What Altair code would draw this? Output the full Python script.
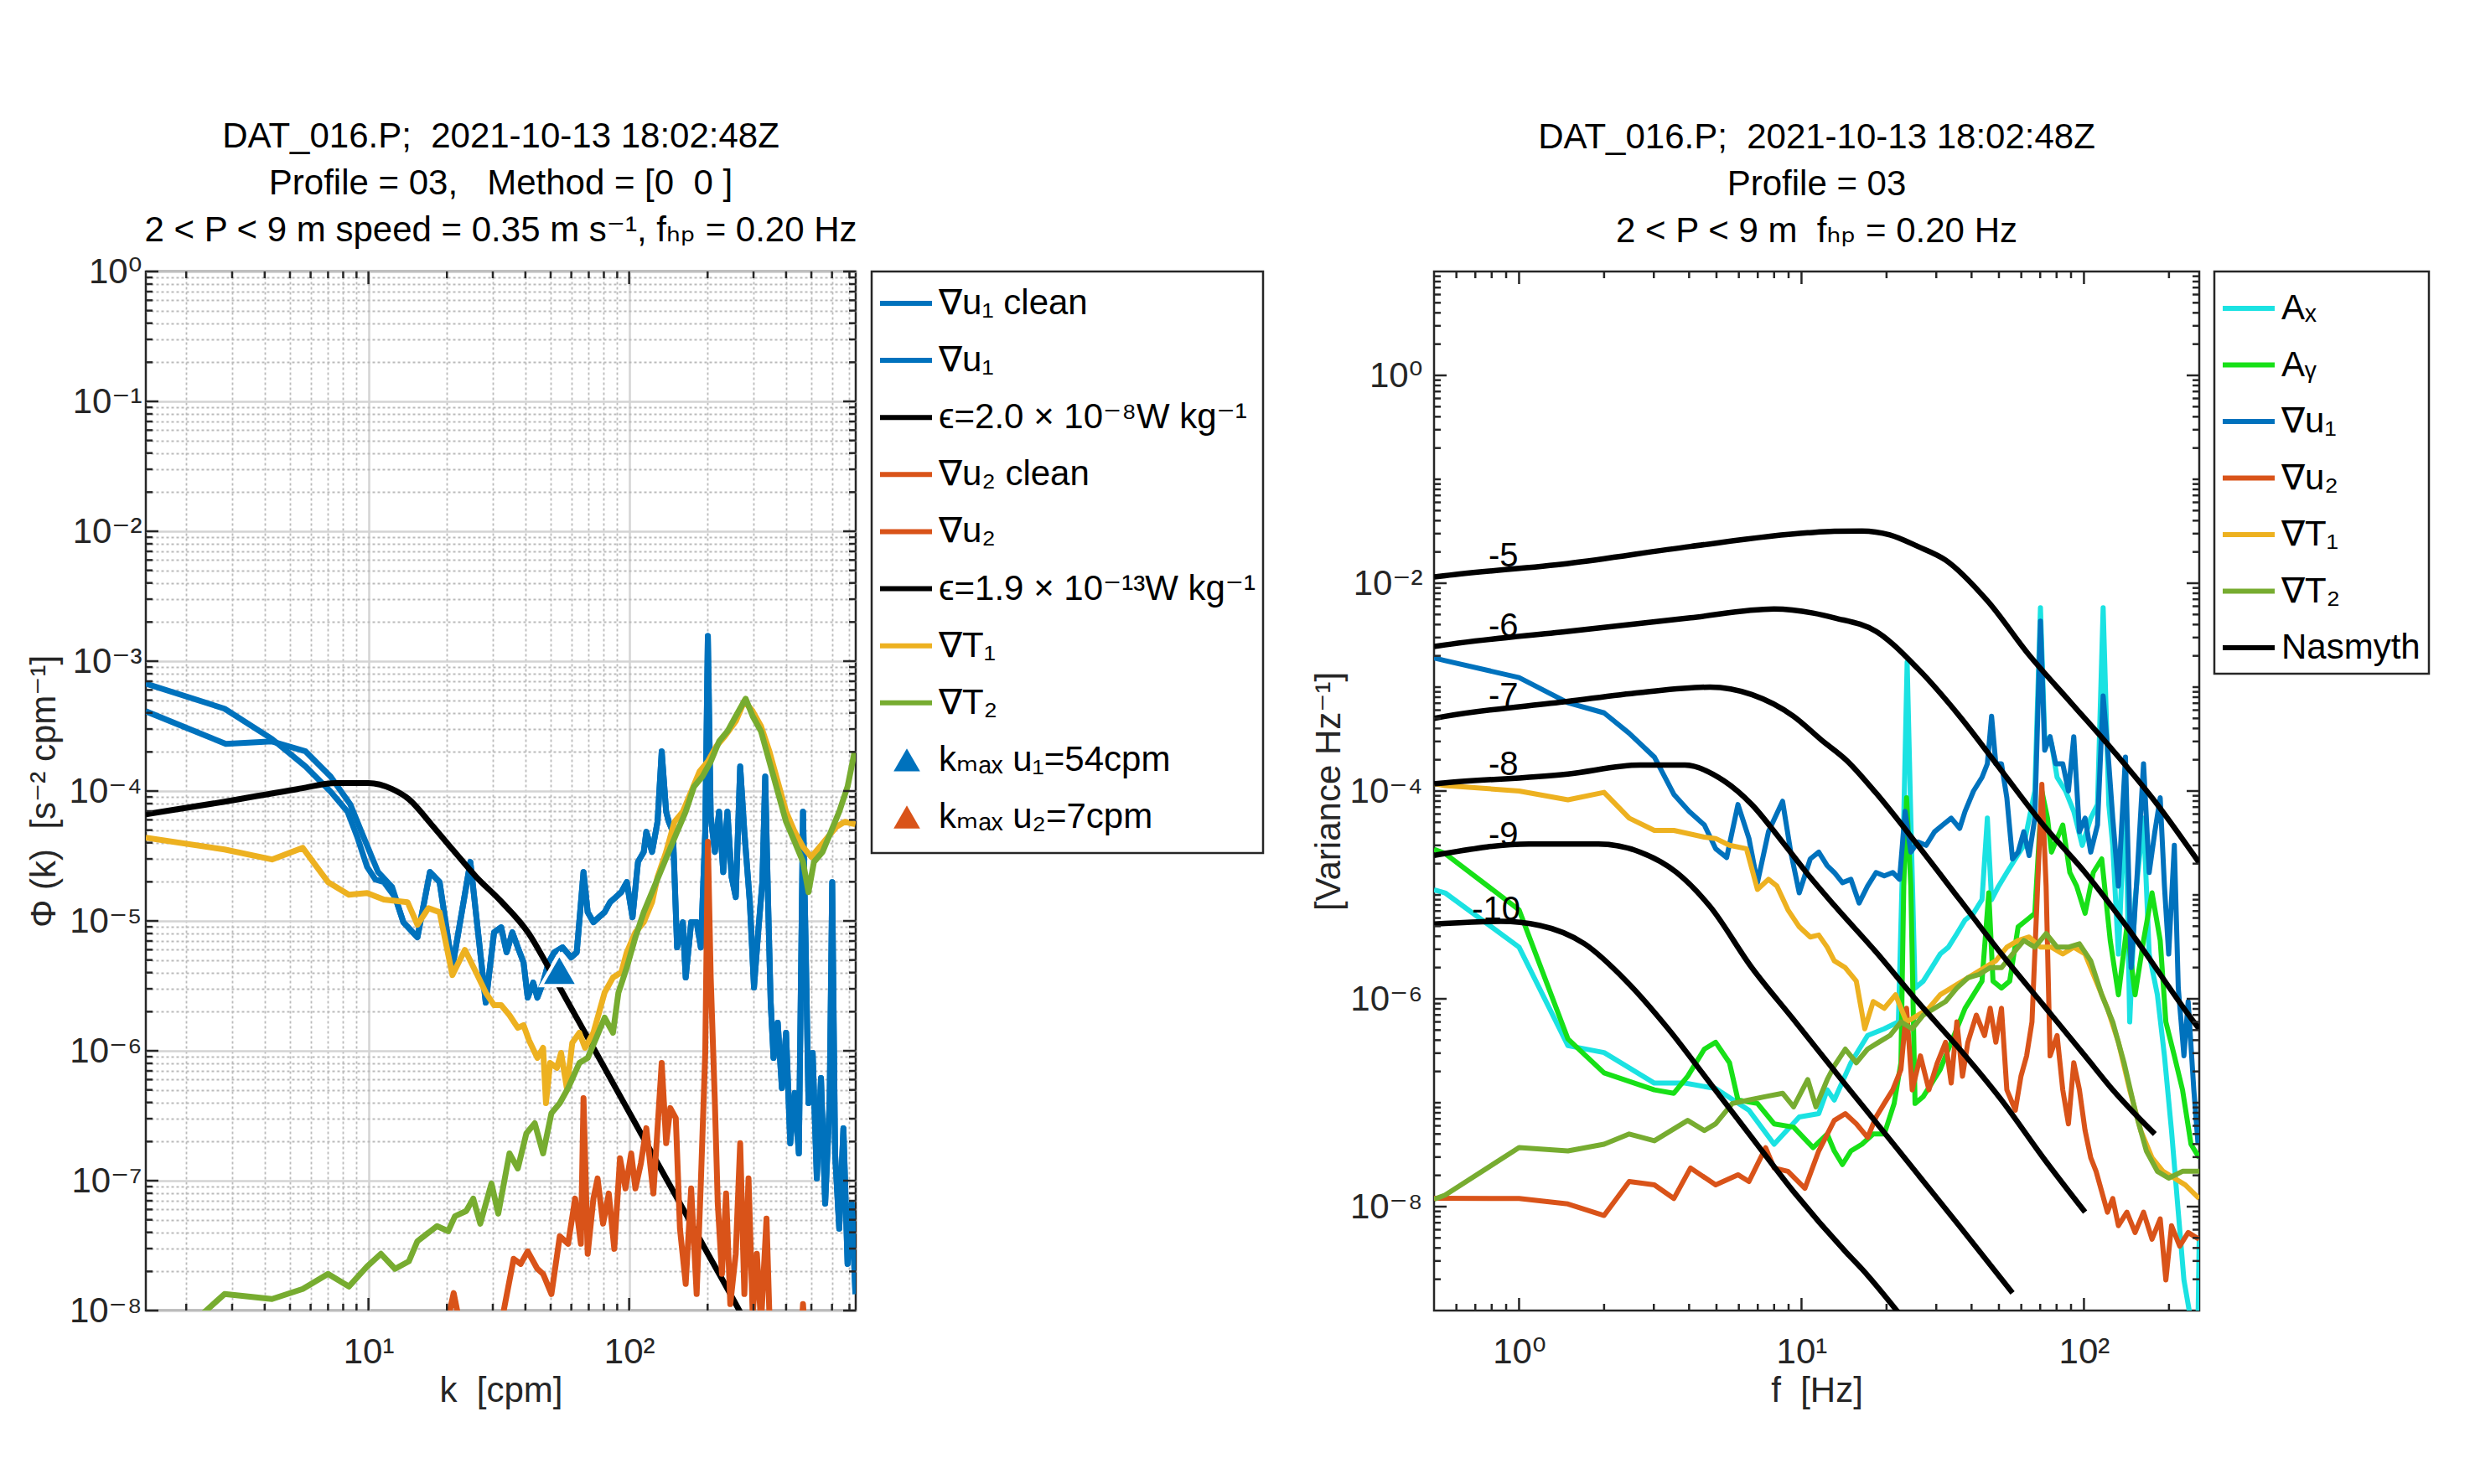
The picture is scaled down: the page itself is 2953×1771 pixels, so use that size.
import math
import altair as alt
import pandas as pd

FONT = "Liberation Sans, DejaVu Sans"
AXC = "#262626"
BLUE, RED, YEL, GRN = "#0072BD", "#D95319", "#EDB120", "#77AC30"
CYAN, LIME, BLACK = "#1BE2E2", "#17E017", "#000000"
NB = "\u00a0"

# ======================= LEFT PANEL: (log10 k [cpm], log10 Phi) =======================
U1_CLEAN_HEAD = [(0.146,-3.173),(0.448,-3.366),(0.630,-3.599),(0.759,-3.811),(0.855,-4.005),(0.920,-4.159),
                 (0.957,-4.353),(0.995,-4.585),(1.027,-4.682),(1.059,-4.701),(1.102,-4.817)]
U1_RAW_HEAD = [(0.146,-3.386),(0.453,-3.637),(0.630,-3.618),(0.759,-3.695),(0.855,-3.889),(0.930,-4.101),
               (0.973,-4.314),(1.005,-4.469),(1.037,-4.624),(1.091,-4.740)]
U1_TAIL = [(1.134,-5.010),(1.188,-5.126),(1.236,-4.624),(1.273,-4.701),(1.322,-5.359),(1.391,-4.546),(1.450,-5.629),
           (1.482,-5.088),(1.509,-5.049),(1.530,-5.242),(1.552,-5.088),(1.573,-5.204),(1.595,-5.320),(1.611,-5.591),
           (1.632,-5.475),(1.648,-5.591),(1.670,-5.475),(1.691,-5.320),(1.713,-5.242),(1.745,-5.204),(1.777,-5.281),
           (1.799,-5.242),(1.825,-4.624),(1.841,-4.933),(1.863,-5.010),(1.884,-4.972),(1.906,-4.933),(1.927,-4.856),
           (1.949,-4.817),(1.970,-4.778),(1.991,-4.701),(2.013,-4.972),(2.034,-4.546),(2.056,-4.469),(2.066,-4.314),
           (2.088,-4.469),(2.109,-4.237),(2.125,-3.695),(2.142,-4.159),(2.152,-4.237),(2.168,-4.314),(2.184,-5.204),
           (2.206,-5.010),(2.217,-5.436),(2.238,-5.010),(2.259,-5.010),(2.275,-5.204),(2.292,-4.314),(2.302,-2.806),
           (2.313,-4.198),(2.329,-4.469),(2.345,-4.159),(2.361,-4.624),(2.377,-4.159),(2.393,-4.662),(2.409,-4.817),
           (2.426,-3.811),(2.442,-4.314),(2.463,-4.856),(2.479,-5.513),(2.495,-5.088),(2.511,-4.701),(2.522,-3.889),
           (2.533,-4.856),(2.543,-5.629),(2.554,-6.055),(2.570,-5.784),(2.586,-6.287),(2.602,-5.861),(2.618,-6.712),
           (2.635,-6.325),(2.651,-6.790),(2.667,-4.159),(2.677,-5.165),(2.688,-6.403),(2.704,-6.016),(2.720,-6.983),
           (2.736,-6.209),(2.752,-7.176),(2.769,-6.403),(2.779,-4.701),(2.790,-6.790),(2.806,-7.370),(2.822,-6.596),
           (2.838,-7.641),(2.854,-7.176),(2.868,-7.873)]
T1_LEFT = [(0.146,-4.360),(0.448,-4.450),(0.630,-4.527),(0.748,-4.438),(0.845,-4.701),(0.925,-4.798),(0.995,-4.786),
           (1.059,-4.836),(1.150,-4.856),(1.188,-5.030),(1.230,-4.902),(1.273,-4.933),(1.322,-5.417),(1.370,-5.223),
           (1.413,-5.397),(1.450,-5.552),(1.482,-5.649),(1.509,-5.649),(1.541,-5.726),(1.573,-5.823),(1.595,-5.803),
           (1.616,-5.919),(1.648,-6.055),(1.670,-5.977),(1.681,-6.403),(1.697,-6.094),(1.723,-6.132),(1.739,-6.016),
           (1.761,-6.287),(1.782,-5.939),(1.809,-5.861),(1.831,-5.977),(1.863,-5.861),(1.906,-5.552),(1.938,-5.436),
           (1.970,-5.397),(1.991,-5.242),(2.024,-5.088),(2.056,-5.010),(2.088,-4.856),(2.109,-4.662),(2.142,-4.469),
           (2.174,-4.237),(2.206,-4.159),(2.238,-4.005),(2.270,-3.850),(2.302,-3.773),(2.334,-3.657),(2.367,-3.579),
           (2.409,-3.463),(2.442,-3.308),(2.474,-3.386),(2.506,-3.502),(2.538,-3.695),(2.570,-3.927),(2.602,-4.159),
           (2.635,-4.314),(2.667,-4.430),(2.699,-4.508),(2.731,-4.430),(2.763,-4.353),(2.795,-4.276),(2.827,-4.237),
           (2.868,-4.256)]
T2_LEFT = [(0.146,-8.45),(0.373,-8.008),(0.448,-7.873),(0.630,-7.911),(0.748,-7.834),(0.845,-7.718),(0.925,-7.815),
           (0.995,-7.660),(1.048,-7.563),(1.102,-7.679),(1.155,-7.621),(1.188,-7.466),(1.263,-7.350),(1.306,-7.389),
           (1.332,-7.273),(1.375,-7.234),(1.402,-7.138),(1.429,-7.331),(1.472,-7.022),(1.498,-7.254),(1.541,-6.790),
           (1.573,-6.906),(1.606,-6.635),(1.638,-6.558),(1.670,-6.790),(1.702,-6.480),(1.734,-6.403),(1.766,-6.287),
           (1.809,-6.094),(1.841,-6.055),(1.874,-5.900),(1.906,-5.745),(1.938,-5.861),(1.959,-5.552),(1.991,-5.359),
           (2.024,-5.126),(2.056,-4.933),(2.088,-4.778),(2.120,-4.624),(2.152,-4.469),(2.184,-4.314),(2.217,-4.159),
           (2.249,-3.966),(2.281,-3.889),(2.313,-3.773),(2.345,-3.618),(2.377,-3.541),(2.409,-3.424),(2.447,-3.289),
           (2.474,-3.424),(2.506,-3.541),(2.538,-3.773),(2.570,-4.005),(2.602,-4.237),(2.635,-4.391),(2.667,-4.546),
           (2.688,-4.778),(2.709,-4.546),(2.742,-4.469),(2.774,-4.314),(2.806,-4.159),(2.838,-3.966),(2.865,-3.695)]
U2_LEFT = [(1.280,-8.3),(1.327,-7.865),(1.370,-8.3),(1.400,-8.6),(1.490,-8.6),(1.520,-7.989),(1.557,-7.602),
           (1.584,-7.641),(1.611,-7.544),(1.648,-7.679),(1.670,-7.718),(1.702,-7.873),(1.734,-7.428),(1.766,-7.486),
           (1.793,-7.138),(1.815,-7.486),(1.825,-6.364),(1.841,-7.563),(1.863,-7.138),(1.879,-6.983),(1.900,-7.331),
           (1.922,-7.099),(1.943,-7.525),(1.965,-6.828),(1.986,-7.060),(2.008,-6.790),(2.024,-7.060),(2.045,-6.867),
           (2.066,-6.596),(2.093,-7.099),(2.109,-6.596),(2.125,-6.094),(2.142,-6.712),(2.158,-6.441),(2.179,-6.519),
           (2.195,-7.370),(2.217,-7.795),(2.238,-7.060),(2.259,-7.873),(2.275,-7.022),(2.292,-6.016),(2.302,-4.391),
           (2.313,-5.436),(2.329,-6.403),(2.340,-7.176),(2.356,-7.718),(2.372,-7.099),(2.388,-7.950),(2.409,-7.563),
           (2.426,-6.712),(2.442,-7.873),(2.458,-6.983),(2.474,-8.03),(2.490,-7.563),(2.506,-8.1),(2.527,-7.292),
           (2.545,-8.5),(2.650,-8.5),(2.667,-7.950),(2.684,-8.5),(2.868,-8.6)]
NASMYTH_LEFT = [(0.146,-4.179),(0.448,-4.082),(0.727,-3.985),(0.877,-3.939),(1.000,-3.939),(1.091,-3.985),
                (1.155,-4.063),(1.241,-4.256),(1.327,-4.46),(1.413,-4.66),(1.509,-4.85),(1.616,-5.10),(1.691,-5.359),
                (1.777,-5.668),(1.863,-5.977),(1.959,-6.325),(2.045,-6.635),(2.131,-6.944),(2.217,-7.254),
                (2.302,-7.563),(2.367,-7.795),(2.431,-8.03),(2.500,-8.28)]
KMAX_K = [54, 7]
KMAX_PHI = [4.2e-6, 2.5e-9]
KMAX_COLORS = [BLUE, RED]

LEFT_TITLE = [f"DAT_016.P;{NB}{NB}2021-10-13 18:02:48Z", f"Profile = 03,{NB}{NB}{NB}Method = [0{NB}{NB}0 ]",
              "2 < P < 9 m speed = 0.35 m s⁻¹, fₕₚ = 0.20 Hz"]
LEFT_XTITLE = f"k{NB}{NB}[cpm]"
LEFT_YTITLE = f"Φ (k){NB}{NB}[s⁻² cpm⁻¹]"
LEFT_LEGEND_LABELS = ["∇u₁ clean", "∇u₁", "ϵ=2.0 × 10⁻⁸W kg⁻¹", "∇u₂ clean", "∇u₂",
                      "ϵ=1.9 × 10⁻¹³W kg⁻¹", "∇T₁", "∇T₂", "kₘₐₓ u₁=54cpm", "kₘₐₓ u₂=7cpm"]
LEFT_LEGEND_COLORS = [BLUE, BLUE, BLACK, RED, RED, BLACK, YEL, GRN, BLUE, RED]
LEFT_LEGEND_KINDS = ["line"] * 8 + ["tri"] * 2

LX_DOMAIN, LY_DOMAIN = [1.4, 740], [1e-8, 1]
LX_MAJOR, LX_LABELS = [10, 100], ["10¹", "10²"]
LY_MAJOR = [1, 1e-1, 1e-2, 1e-3, 1e-4, 1e-5, 1e-6, 1e-7, 1e-8]
LY_LABELS = ["10⁰", "10⁻¹", "10⁻²", "10⁻³", "10⁻⁴", "10⁻⁵", "10⁻⁶", "10⁻⁷", "10⁻⁸"]

# ======================= RIGHT PANEL: (log10 f [Hz], log10 variance) =======================
AX_R = [(-0.301,-4.95),(-0.262,-4.980),(0.0,-5.503),(0.173,-6.451),(0.301,-6.517),(0.479,-6.811),(0.587,-6.811),
        (0.696,-6.863),(0.814,-7.072),(0.903,-7.399),(0.992,-7.137),(1.061,-7.105),(1.091,-6.876),(1.116,-6.974),
        (1.175,-6.615),(1.234,-6.353),(1.293,-6.288),(1.343,-6.222),(1.362,-4.261),(1.374,-2.758),(1.387,-4.261),
        (1.402,-5.896),(1.431,-5.830),(1.461,-5.700),(1.491,-5.569),(1.520,-5.503),(1.550,-5.373),(1.579,-5.242),
        (1.609,-5.177),(1.639,-5.046),(1.658,-4.261),(1.673,-5.046),(1.698,-4.915),(1.727,-4.784),(1.757,-4.653),
        (1.787,-4.523),(1.826,-4.000),(1.846,-2.235),(1.861,-3.477),(1.885,-3.542),(1.905,-3.869),(1.935,-4.000),
        (1.964,-4.196),(1.994,-4.523),(2.024,-4.261),(2.048,-4.130),(2.068,-2.235),(2.088,-4.130),(2.102,-4.523),
        (2.122,-5.569),(2.147,-4.000),(2.162,-6.222),(2.181,-5.046),(2.211,-4.261),(2.231,-5.569),(2.260,-5.961),
        (2.285,-6.549),(2.310,-7.268),(2.334,-8.053),(2.354,-8.706),(2.379,-9.1),(2.404,-9.1),(2.408,-8.314)]
AY_R = [(-0.301,-4.56),(-0.262,-4.601),(0.0,-5.144),(0.173,-6.386),(0.301,-6.713),(0.479,-6.876),(0.548,-6.909),
        (0.597,-6.745),(0.656,-6.484),(0.696,-6.418),(0.745,-6.615),(0.775,-6.974),(0.844,-7.007),(0.903,-7.203),
        (0.972,-7.235),(1.041,-7.432),(1.091,-7.301),(1.116,-7.464),(1.145,-7.595),(1.175,-7.464),(1.214,-7.399),
        (1.254,-7.301),(1.293,-7.301),(1.328,-7.007),(1.352,-6.615),(1.362,-4.915),(1.372,-4.065),(1.387,-4.915),
        (1.402,-7.007),(1.431,-6.941),(1.461,-6.811),(1.491,-6.680),(1.520,-6.484),(1.550,-6.288),(1.579,-6.091),
        (1.609,-5.961),(1.639,-5.830),(1.663,-4.980),(1.678,-5.830),(1.708,-5.896),(1.737,-5.830),(1.767,-5.307),
        (1.797,-5.242),(1.826,-5.177),(1.851,-4.000),(1.871,-4.261),(1.885,-4.588),(1.905,-4.457),(1.925,-4.327),
        (1.950,-4.784),(1.974,-4.915),(2.004,-5.177),(2.033,-4.784),(2.063,-4.653),(2.093,-5.438),(2.122,-5.961),
        (2.152,-5.307),(2.181,-5.961),(2.211,-5.438),(2.241,-4.980),(2.270,-5.438),(2.290,-6.222),(2.320,-6.549),
        (2.349,-6.876),(2.379,-7.399),(2.408,-7.530)]
U1_R = [(-0.301,-2.72),(-0.262,-2.745),(0.0,-2.908),(0.173,-3.150),(0.301,-3.248),(0.390,-3.444),(0.479,-3.673),
        (0.548,-4.032),(0.602,-4.196),(0.656,-4.327),(0.696,-4.555),(0.735,-4.640),(0.775,-4.130),(0.814,-4.457),
        (0.844,-4.882),(0.883,-4.392),(0.933,-4.098),(0.962,-4.588),(0.992,-4.980),(1.031,-4.653),(1.061,-4.588),
        (1.091,-4.719),(1.116,-4.784),(1.145,-4.882),(1.175,-4.850),(1.204,-5.078),(1.234,-4.915),(1.264,-4.784),
        (1.293,-4.817),(1.323,-4.784),(1.347,-4.850),(1.367,-4.196),(1.387,-4.588),(1.412,-4.490),(1.441,-4.523),
        (1.471,-4.392),(1.500,-4.327),(1.530,-4.261),(1.560,-4.359),(1.579,-4.196),(1.609,-4.000),(1.639,-3.869),
        (1.658,-3.738),(1.673,-3.281),(1.688,-3.738),(1.708,-3.738),(1.727,-4.065),(1.747,-4.653),(1.767,-4.588),
        (1.787,-4.392),(1.806,-4.621),(1.826,-4.261),(1.846,-2.365),(1.861,-3.607),(1.880,-3.477),(1.900,-3.738),
        (1.925,-3.738),(1.945,-4.000),(1.964,-3.477),(1.984,-4.392),(2.004,-4.261),(2.024,-4.588),(2.048,-4.327),
        (2.068,-3.085),(2.088,-3.738),(2.102,-4.261),(2.122,-4.915),(2.147,-3.673),(2.167,-5.700),(2.186,-4.915),
        (2.211,-3.738),(2.231,-4.784),(2.251,-4.392),(2.270,-4.065),(2.285,-4.915),(2.300,-5.569),(2.320,-4.523),
        (2.334,-5.896),(2.354,-6.549),(2.369,-6.026),(2.389,-6.876),(2.404,-7.399)]
U2_R = [(-0.301,-7.92),(0.0,-7.922),(0.173,-7.974),(0.301,-8.085),(0.390,-7.758),(0.479,-7.791),(0.548,-7.922),
        (0.607,-7.628),(0.696,-7.791),(0.775,-7.693),(0.814,-7.758),(0.873,-7.432),(0.903,-7.628),(0.952,-7.660),
        (1.012,-7.824),(1.061,-7.464),(1.116,-7.170),(1.155,-7.105),(1.194,-7.203),(1.234,-7.334),(1.264,-7.137),
        (1.293,-7.007),(1.323,-6.876),(1.352,-6.680),(1.372,-6.091),(1.392,-6.876),(1.421,-6.549),(1.451,-6.876),
        (1.481,-6.615),(1.510,-6.418),(1.530,-6.811),(1.550,-6.222),(1.570,-6.745),(1.589,-6.418),(1.619,-6.157),
        (1.648,-6.353),(1.668,-6.091),(1.688,-6.418),(1.708,-6.091),(1.727,-6.876),(1.757,-7.072),(1.777,-6.745),
        (1.797,-6.549),(1.816,-6.222),(1.836,-4.915),(1.851,-3.935),(1.866,-4.915),(1.880,-6.549),(1.905,-6.353),
        (1.925,-6.876),(1.945,-7.203),(1.964,-6.615),(1.984,-6.876),(2.004,-7.268),(2.024,-7.530),(2.043,-7.660),
        (2.063,-7.856),(2.083,-8.053),(2.102,-7.922),(2.122,-8.183),(2.152,-8.053),(2.181,-8.249),(2.211,-8.053),
        (2.241,-8.314),(2.270,-8.118),(2.290,-8.706),(2.310,-8.183),(2.339,-8.380),(2.369,-8.249),(2.408,-8.314)]
T1_R = [(-0.301,-3.93),(-0.262,-3.947),(0.0,-4.000),(0.173,-4.085),(0.301,-4.013),(0.390,-4.261),(0.479,-4.379),
        (0.548,-4.379),(0.656,-4.444),(0.696,-4.457),(0.745,-4.522),(0.805,-4.555),(0.844,-4.947),(0.883,-4.850),
        (0.913,-4.915),(0.952,-5.144),(0.992,-5.307),(1.031,-5.405),(1.061,-5.386),(1.091,-5.503),(1.116,-5.634),
        (1.155,-5.700),(1.194,-5.830),(1.224,-6.288),(1.254,-6.026),(1.293,-6.091),(1.333,-5.961),(1.372,-6.222),
        (1.412,-6.157),(1.451,-6.091),(1.491,-5.961),(1.530,-5.896),(1.570,-5.830),(1.609,-5.765),(1.648,-5.700),
        (1.688,-5.634),(1.727,-5.503),(1.767,-5.438),(1.806,-5.405),(1.846,-5.503),(1.885,-5.503),(1.925,-5.569),
        (1.964,-5.503),(2.004,-5.569),(2.043,-5.830),(2.083,-6.091),(2.122,-6.418),(2.162,-6.876),(2.201,-7.268),
        (2.241,-7.530),(2.280,-7.660),(2.320,-7.726),(2.359,-7.791),(2.408,-7.922)]
T2_R = [(-0.301,-7.93),(-0.262,-7.889),(0.0,-7.432),(0.173,-7.464),(0.301,-7.399),(0.390,-7.301),(0.479,-7.366),
        (0.597,-7.170),(0.656,-7.268),(0.696,-7.203),(0.755,-7.007),(0.814,-6.974),(0.873,-6.941),(0.933,-6.909),
        (0.972,-7.039),(1.022,-6.778),(1.051,-7.039),(1.091,-6.778),(1.116,-6.647),(1.155,-6.484),(1.194,-6.615),
        (1.234,-6.484),(1.273,-6.418),(1.313,-6.353),(1.352,-6.222),(1.392,-6.288),(1.431,-6.157),(1.471,-6.091),
        (1.510,-6.026),(1.550,-5.896),(1.589,-5.798),(1.629,-5.765),(1.668,-5.700),(1.708,-5.700),(1.747,-5.569),
        (1.787,-5.438),(1.826,-5.503),(1.866,-5.373),(1.905,-5.503),(1.945,-5.503),(1.984,-5.471),(2.024,-5.634),
        (2.063,-5.961),(2.102,-6.222),(2.142,-6.615),(2.181,-7.072),(2.221,-7.464),(2.260,-7.660),(2.300,-7.726),
        (2.349,-7.660),(2.408,-7.660)]
N5_R = [(-0.301,-1.94),(-0.262,-1.927),(0.173,-1.810),(0.607,-1.646),(1.022,-1.515),(1.116,-1.500),(1.214,-1.497),
        (1.313,-1.535),(1.412,-1.646),(1.510,-1.777),(1.658,-2.169),(1.806,-2.692),(1.954,-3.150),(2.102,-3.607),
        (2.251,-4.098),(2.408,-4.69)]
N6_R = [(-0.301,-2.61),(-0.262,-2.594),(0.173,-2.464),(0.607,-2.333),(0.903,-2.248),(1.041,-2.287),(1.116,-2.333),
        (1.264,-2.464),(1.412,-2.823),(1.560,-3.281),(1.708,-3.804),(1.856,-4.327),(2.004,-4.784),(2.152,-5.307),
        (2.389,-6.222),(2.408,-6.29)]
N7_R = [(-0.301,-3.30),(-0.262,-3.281),(0.173,-3.137),(0.429,-3.052),(0.676,-3.000),(0.824,-3.072),(0.972,-3.281),
        (1.071,-3.510),(1.160,-3.706),(1.264,-4.02),(1.412,-4.523),(1.560,-5.045),(1.708,-5.569),(1.856,-6.059),
        (2.004,-6.549),(2.102,-6.876),(2.251,-7.301)]
N8_R = [(-0.301,-3.93),(-0.262,-3.921),(0.173,-3.836),(0.429,-3.751),(0.587,-3.751),(0.725,-3.901),(0.824,-4.130),
        (0.923,-4.457),(1.022,-4.80),(1.116,-5.10),(1.264,-5.55),(1.412,-6.03),(1.560,-6.484),(1.708,-6.974),
        (1.856,-7.530),(2.004,-8.053)]
N9_R = [(-0.301,-4.62),(-0.262,-4.601),(0.035,-4.510),(0.281,-4.510),(0.429,-4.588),(0.558,-4.784),(0.676,-5.111),
        (0.824,-5.700),(0.972,-6.20),(1.160,-6.84),(1.264,-7.19),(1.412,-7.69),(1.560,-8.19),(1.747,-8.83)]
N10_R = [(-0.301,-5.28),(-0.262,-5.274),(-0.064,-5.255),(0.074,-5.294),(0.232,-5.471),(0.380,-5.830),(0.528,-6.288),
         (0.676,-6.811),(0.824,-7.334),(0.972,-7.856),(1.160,-8.445),(1.214,-8.60),(1.343,-9.02)]
NAS_LABELS = ["-5", "-6", "-7", "-8", "-9", "-10"]
NAS_LABEL_F = [0.88, 0.88, 0.88, 0.88, 0.88, 0.83]
NAS_LABEL_V = [1.80e-2, 3.82e-3, 8.22e-4, 1.77e-4, 3.76e-5, 7.18e-6]

RIGHT_TITLE = [f"DAT_016.P;{NB}{NB}2021-10-13 18:02:48Z", "Profile = 03", f"2 < P < 9 m{NB}{NB}fₕₚ = 0.20 Hz"]
RIGHT_XTITLE = f"f{NB}{NB}[Hz]"
RIGHT_YTITLE = "[Variance Hz⁻¹]"
RIGHT_LEGEND_LABELS = ["Aₓ", "Aᵧ", "∇u₁", "∇u₂", "∇T₁", "∇T₂", "Nasmyth"]
RIGHT_LEGEND_COLORS = [CYAN, LIME, BLUE, RED, YEL, GRN, BLACK]
RIGHT_LEGEND_KINDS = ["line"] * 7

RX_DOMAIN, RY_DOMAIN = [0.5, 256], [1e-9, 10]
RX_MAJOR, RX_LABELS = [1, 10, 100], ["10⁰", "10¹", "10²"]
RY_MAJOR, RY_LABELS = [1, 1e-2, 1e-4, 1e-6, 1e-8], ["10⁰", "10⁻²", "10⁻⁴", "10⁻⁶", "10⁻⁸"]

MULTS = [2, 3, 4, 5, 6, 7, 8, 9]

# ======================= helpers =======================
LW, LH = 847, 1240
RW, RH = 913, 1240
FS = 42
MAJOR = "abs(log(datum.value)/LN10 - round(log(datum.value)/LN10)) < 0.001"


def lab_expr(values, labels):
    e = "round(log(datum.value)/LN10)"
    expr = "''"
    for v, lab in zip(values[::-1], labels[::-1]):
        expr = f"{e} == {round(math.log10(v))} ? '{lab}' : {expr}"
    return f"({MAJOR}) ? ({expr}) : ''"


def minors(lo, hi, decades):
    out = []
    for d in decades:
        for m in MULTS:
            v = m * 10.0 ** d
            if lo < v < hi:
                out.append(v)
    return out


def make_axis(values, labels, title, all_values=None, grid=False, **extra):
    kw = dict(values=all_values if all_values else values, labelExpr=lab_expr(values, labels), title=title,
              ticks=False, domain=False, labelFont=FONT, labelFontSize=FS, labelColor=AXC, labelOverlap=False,
              labelFlush=False, titleFont=FONT, titleFontSize=FS, titleFontWeight="normal", titleColor=AXC,
              grid=grid)
    if grid:
        kw.update(gridColor={"condition": {"test": MAJOR, "value": "#d4d4d4"}, "value": "#bbbbbb"},
                  gridDash={"condition": {"test": MAJOR, "value": [1, 0]}, "value": [3, 3]},
                  gridWidth={"condition": {"test": MAJOR, "value": 2.5}, "value": 1.8})
    kw.update(extra)
    return alt.Axis(**kw)


def series_df(pairs, xf, yf):
    return pd.DataFrame({xf: [10 ** a for a, _ in pairs], yf: [10 ** b for _, b in pairs],
                         "o": list(range(len(pairs)))})


def line_layer(pairs, color, xs, ys, xf, yf, xaxis, yaxis, width=7.0, interp="linear"):
    return alt.Chart(series_df(pairs, xf, yf)).mark_line(
        color=color, strokeWidth=width, clip=True, interpolate=interp, strokeJoin="round").encode(
        x=alt.X(f"{xf}:Q", scale=xs, axis=xaxis), y=alt.Y(f"{yf}:Q", scale=ys, axis=yaxis),
        order=alt.Order("o:Q"))


def tick_layers(xs, ys, xaxis, yaxis, xmaj, xmin, ymaj, ymin, W, H):
    out = []
    for vals, L in ((xmaj, 15), (xmin, 8)):
        d = pd.DataFrame({"v": vals})
        ex = alt.X("v:Q", scale=xs, axis=xaxis)
        out.append(alt.Chart(d).mark_rule(color=AXC, strokeWidth=2.5).encode(x=ex, y=alt.value(H), y2=alt.value(H - L)))
        out.append(alt.Chart(d).mark_rule(color=AXC, strokeWidth=2.5).encode(x=ex, y=alt.value(0), y2=alt.value(L)))
    for vals, L in ((ymaj, 15), (ymin, 8)):
        d = pd.DataFrame({"v": vals})
        ey = alt.Y("v:Q", scale=ys, axis=yaxis)
        out.append(alt.Chart(d).mark_rule(color=AXC, strokeWidth=2.5).encode(y=ey, x=alt.value(0), x2=alt.value(L)))
        out.append(alt.Chart(d).mark_rule(color=AXC, strokeWidth=2.5).encode(y=ey, x=alt.value(W), x2=alt.value(W - L)))
    return out


def title_params(lines, color="black", offset=25):
    return alt.TitleParams(text=lines, font=FONT, fontSize=FS, fontWeight="normal", color=color,
                           lineHeight=56, offset=offset, anchor="middle", frame="group")


def legend_chart(labels, colors, kinds, width, height, domain):
    df = pd.DataFrame({"t": labels, "c": colors, "kind": kinds, "i": list(range(len(labels)))})
    ys = alt.Scale(domain=domain, reverse=True, nice=False, zero=False)
    ey = alt.Y("i:Q", scale=ys, axis=None)
    base = alt.Chart(df)
    layers = [base.transform_filter("datum.kind == 'line'").mark_rule(strokeWidth=6).encode(
        y=ey, x=alt.value(10), x2=alt.value(72), color=alt.Color("c:N", scale=None))]
    if "tri" in kinds:
        layers.append(base.transform_filter("datum.kind == 'tri'").mark_point(
            shape="triangle-up", filled=True, size=1000, opacity=1).encode(
            y=ey, x=alt.value(42), color=alt.Color("c:N", scale=None)))
    layers.append(base.mark_text(align="left", baseline="middle", font=FONT, fontSize=FS, color="black").encode(
        y=ey, x=alt.value(80), text="t:N"))
    return alt.layer(*layers).properties(width=width, height=height,
                                         title=title_params(["·", "·", "·"], color="white"))


# ======================= left panel =======================
lxs = alt.Scale(type="log", domain=LX_DOMAIN, nice=False)
lys = alt.Scale(type="log", domain=LY_DOMAIN, nice=False)
LX_MINOR = minors(LX_DOMAIN[0], LX_DOMAIN[1], [0, 1, 2])
LY_MINOR = minors(LY_DOMAIN[0], LY_DOMAIN[1], list(range(-8, 0)))

lx_axis = make_axis(LX_MAJOR, LX_LABELS, LEFT_XTITLE, LX_MAJOR + LX_MINOR, grid=True, labelPadding=29, titlePadding=5)
ly_axis = make_axis(LY_MAJOR, LY_LABELS, LEFT_YTITLE, LY_MAJOR + LY_MINOR, grid=True,
                    labelPadding=5, titlePadding=8)

LA = dict(xs=lxs, ys=lys, xf="k", yf="phi", xaxis=lx_axis, yaxis=ly_axis)
left_layers = [
    line_layer(U1_CLEAN_HEAD + U1_TAIL, BLUE, **LA),
    line_layer(U1_RAW_HEAD + U1_TAIL, BLUE, **LA),
    line_layer(NASMYTH_LEFT, BLACK, width=7, interp="monotone", **LA),
    line_layer(U2_LEFT, RED, **LA),
    line_layer(T1_LEFT, YEL, **LA),
    line_layer(T2_LEFT, GRN, **LA),
    alt.Chart(pd.DataFrame({"k": KMAX_K, "phi": KMAX_PHI, "c": KMAX_COLORS})).mark_point(
        shape="triangle-up", filled=True, size=1900, opacity=1, stroke="white", strokeWidth=4, clip=True).encode(
        x=alt.X("k:Q", scale=lxs, axis=lx_axis), y=alt.Y("phi:Q", scale=lys, axis=ly_axis),
        fill=alt.Color("c:N", scale=None)),
] + tick_layers(lxs, lys, lx_axis, ly_axis, LX_MAJOR, LX_MINOR, LY_MAJOR, LY_MINOR, LW, LH)

left_plot = alt.layer(*left_layers).properties(width=LW, height=LH, title=title_params(LEFT_TITLE, offset=6))
left_leg = legend_chart(LEFT_LEGEND_LABELS, LEFT_LEGEND_COLORS, LEFT_LEGEND_KINDS, 467, 694, [-0.558, 9.631])

# ======================= right panel =======================
rxs = alt.Scale(type="log", domain=RX_DOMAIN, nice=False)
rys = alt.Scale(type="log", domain=RY_DOMAIN, nice=False)
RX_MINOR = minors(RX_DOMAIN[0], RX_DOMAIN[1], [-1, 0, 1, 2])
RY_MINOR = minors(RY_DOMAIN[0], RY_DOMAIN[1], list(range(-9, 1))) + [1e-7, 1e-5, 1e-3, 1e-1]

rx_axis = make_axis(RX_MAJOR, RX_LABELS, RIGHT_XTITLE, labelPadding=29, titlePadding=5)
ry_axis = make_axis(RY_MAJOR, RY_LABELS, RIGHT_YTITLE, labelPadding=14, titlePadding=3)

RA = dict(xs=rxs, ys=rys, xf="f", yf="v", xaxis=rx_axis, yaxis=ry_axis)
right_layers = [
    line_layer(AX_R, CYAN, width=6, **RA),
    line_layer(AY_R, LIME, width=6, **RA),
    line_layer(U1_R, BLUE, width=6, **RA),
    line_layer(U2_R, RED, width=6, **RA),
    line_layer(T1_R, YEL, width=6, **RA),
    line_layer(T2_R, GRN, width=6, **RA),
] + [line_layer(n, BLACK, width=6.5, interp="monotone", **RA)
     for n in (N5_R, N6_R, N7_R, N8_R, N9_R, N10_R)] + [
    alt.Chart(pd.DataFrame({"f": NAS_LABEL_F, "v": NAS_LABEL_V, "t": NAS_LABELS})).mark_text(
        font=FONT, fontSize=40, color="black", align="center", baseline="middle").encode(
        x=alt.X("f:Q", scale=rxs, axis=rx_axis), y=alt.Y("v:Q", scale=rys, axis=ry_axis), text="t:N"),
] + tick_layers(rxs, rys, rx_axis, ry_axis, RX_MAJOR, RX_MINOR, RY_MAJOR, RY_MINOR, RW, RH)

right_plot = alt.layer(*right_layers).properties(width=RW, height=RH, title=title_params(RIGHT_TITLE))
right_leg = legend_chart(RIGHT_LEGEND_LABELS, RIGHT_LEGEND_COLORS, RIGHT_LEGEND_KINDS, 256, 480, [-0.652, 6.459])

left_group = alt.hconcat(left_plot, left_leg, spacing=13)
right_group = alt.hconcat(right_plot, right_leg, spacing=13)

chart = alt.hconcat(left_group, right_group, spacing=53).properties(
    padding={"left": 21, "top": 132, "right": 5, "bottom": 5}
).configure(font=FONT).configure_view(stroke=AXC, strokeWidth=2.5)

chart.save("out.html", embed_options={"renderer": "svg", "actions": False})
